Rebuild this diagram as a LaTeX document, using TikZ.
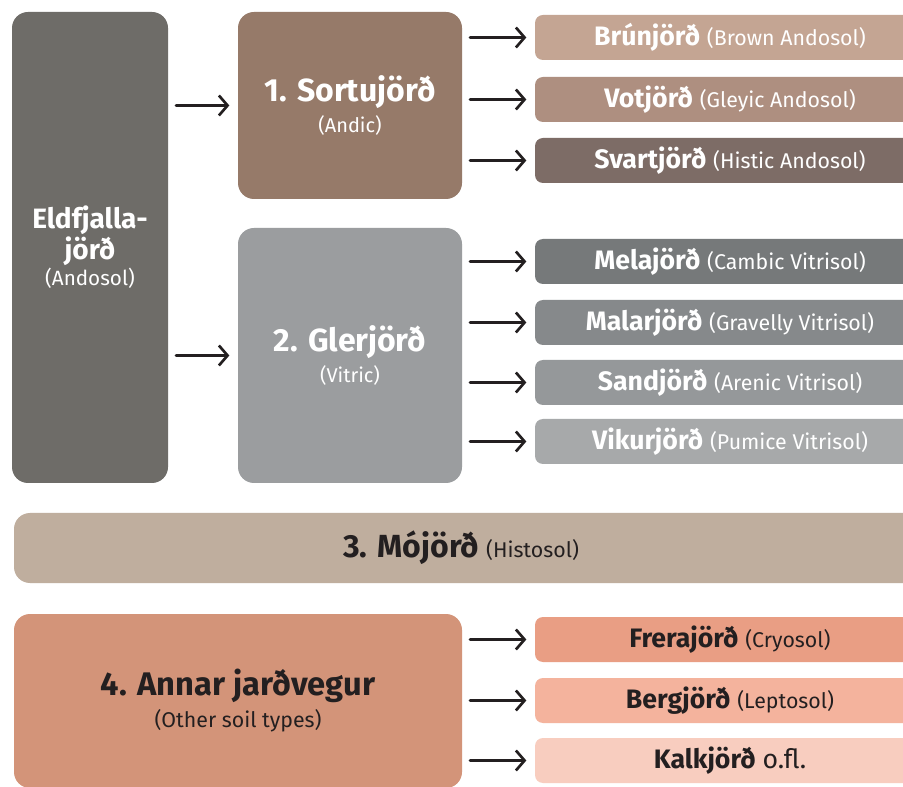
\documentclass[tikz,border=0pt]{standalone}
\usepackage{fontspec}
\setmainfont{Fira Sans}
\usetikzlibrary{arrows.meta}
\usetikzlibrary{calc}

\definecolor{eldcol}{HTML}{6E6C68}
\definecolor{sortucol}{HTML}{967A69}
\definecolor{glercol}{HTML}{9B9D9F}
\definecolor{bruncol}{HTML}{C4A593}
\definecolor{votcol}{HTML}{AE8F80}
\definecolor{svartcol}{HTML}{7D6C66}
\definecolor{melacol}{HTML}{76797A}
\definecolor{malarcol}{HTML}{86898B}
\definecolor{sandcol}{HTML}{95989A}
\definecolor{vikurcol}{HTML}{A7A9AA}
\definecolor{mocol}{HTML}{BFAE9E}
\definecolor{annarcol}{HTML}{D39479}
\definecolor{freracol}{HTML}{E99E84}
\definecolor{bergcol}{HTML}{F4B39D}
\definecolor{kalkcol}{HTML}{F8CDBF}
\definecolor{darktext}{HTML}{231F20}

\newcommand{\bigname}[2]{{\fontsize{24}{23}\selectfont\bfseries #1}\\{\fontsize{15}{23}\selectfont #2}}
\newcommand{\soilname}[2]{{\fontsize{20}{24}\selectfont\bfseries #1}\hspace{5pt}{\fontsize{16}{19}\selectfont #2}}

\begin{document}
\begin{tikzpicture}[line cap=round,line join=round,x=0.75pt,y=-0.75pt,
  bigbox/.style={anchor=north west,inner sep=0pt,outer sep=0pt,rounded corners=12pt,align=center,
    text=white,font=\fontsize{15}{23}\selectfont},
  soilbox/.style={anchor=north west,inner sep=0pt,outer sep=0pt,rounded corners=6pt,
    minimum width=292.5pt,minimum height=33.75pt,text=white},
  arr/.style={-{Straight Barb[length=6.5pt,width=15pt]},line width=2pt,darktext,
    shorten <=6pt,shorten >=6.5pt}]
\clip (0,0) rectangle (903,787);
\fill[white] (0,0) rectangle (903,787);
% Eldfjallajord
\node[bigbox,fill=eldcol,minimum width=117pt,minimum height=353.25pt,font=\fontsize{15.5}{20}\selectfont] (eld) at (12,12)
  {{\fontsize{21}{20}\selectfont\bfseries Eldfjalla-}\\{\fontsize{21}{20}\selectfont\bfseries jörð}\\(Andosol)};
\node[bigbox,fill=sortucol,minimum width=168pt,minimum height=140.25pt] (sortu) at (238,12)
  {\bigname{1. Sortujörð}{(Andic)}};
\node[bigbox,fill=glercol,minimum width=168pt,minimum height=191.25pt] (gler) at (238,228)
  {\bigname{2. Glerjörð}{(Vitric)}};
% andosol types
\node[soilbox,fill=bruncol] (brun) at (535,15) {\soilname{Brúnjörð}{(Brown Andosol)}};
\node[soilbox,fill=votcol] (vot) at (535,77) {\soilname{Votjörð}{(Gleyic Andosol)}};
\node[soilbox,fill=svartcol] (svart) at (535,138) {\soilname{Svartjörð}{(Histic Andosol)}};
\node[soilbox,fill=melacol] (mela) at (535,239) {\soilname{Melajörð}{(Cambic Vitrisol)}};
\node[soilbox,fill=malarcol] (malar) at (535,300) {\soilname{Malarjörð}{(Gravelly Vitrisol)}};
\node[soilbox,fill=sandcol] (sand) at (535,360) {\soilname{Sandjörð}{(Arenic Vitrisol)}};
\node[soilbox,fill=vikurcol] (vikur) at (535,419) {\soilname{Vikurjörð}{(Pumice Vitrisol)}};
% Mojord
\node[bigbox,fill=mocol,text=darktext,minimum width=683.25pt,minimum height=52.5pt] (mo) at (14,513)
  {{\fontsize{24}{26}\selectfont\bfseries 3. Mójörð}\hspace{5pt}{\fontsize{16}{19}\selectfont (Histosol)}\hspace*{12.75pt}};
% other soils
\node[bigbox,fill=annarcol,text=darktext,minimum width=336pt,minimum height=130.5pt,font=\fontsize{16}{24}\selectfont] (annar) at (14,614)
  {{\fontsize{24.5}{24}\selectfont\bfseries 4. Annar jarðvegur}\\(Other soil types)};
\node[soilbox,fill=freracol,text=darktext] (frera) at (535,617) {\soilname{Frerajörð}{(Cryosol)}};
\node[soilbox,fill=bergcol,text=darktext] (berg) at (535,678) {\soilname{Bergjörð}{(Leptosol)}};
\node[soilbox,fill=kalkcol,text=darktext] (kalk) at (535,738)
  {{\fontsize{20}{24}\selectfont\bfseries Kalkjörð}\hspace{5pt}{\fontsize{20}{24}\selectfont o.fl.}};
% arrows
\draw[arr] (eld.east |- sortu.west) -- (sortu.west);
\draw[arr] (eld.east |- gler.west) -- (gler.west);
\foreach \t in {brun,vot,svart}
  \draw[arr] (sortu.east |- \t.west) -- (\t.west);
\foreach \t in {mela,malar,sand,vikur}
  \draw[arr] (gler.east |- \t.west) -- (\t.west);
\foreach \t in {frera,berg,kalk}
  \draw[arr] (annar.east |- \t.west) -- (\t.west);
\end{tikzpicture}
\end{document}
